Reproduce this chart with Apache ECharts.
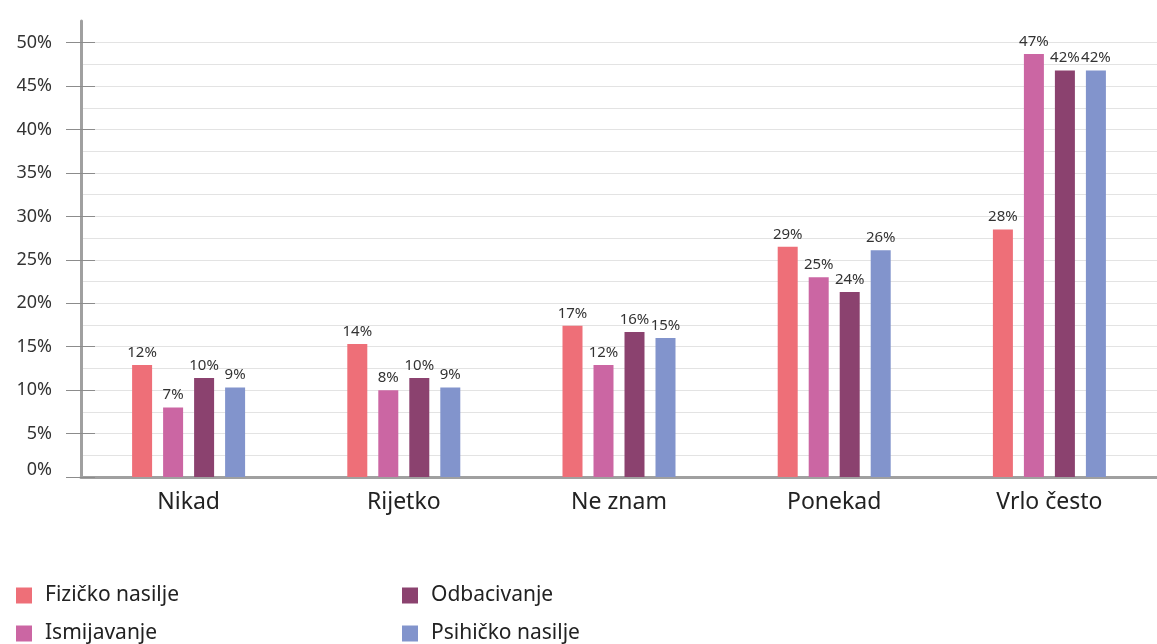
<!DOCTYPE html>
<html>
<head>
<meta charset="utf-8">
<script src="https://cdn.jsdelivr.net/npm/echarts@6/dist/echarts.min.js"></script>
<style>
  html, body { margin: 0; padding: 0; background: #fff; }
  #chart { width: 1157px; height: 644px; }
</style>
</head>
<body>
<div id="chart"></div>
<script>
// kategorije i serije
const categories = ['Nikad', 'Rijetko', 'Ne znam', 'Ponekad', 'Vrlo često']
const seriesNames = ['Fizičko nasilje', 'Ismijavanje', 'Odbacivanje', 'Psihičko nasilje']

// visine stupaca ocitane sa slike (u jedinicama osi)
const fizicko = [12.9, 15.3, 17.4, 26.5, 28.5]
const ismijavanje = [8.0, 10.0, 12.9, 23.0, 48.7]
const odbacivanje = [11.4, 11.4, 16.7, 21.3, 46.8]
const psihicko = [10.3, 10.3, 16.0, 26.1, 46.8]

// natpisi iznad stupaca
const fizickoLabels = [12, 14, 17, 29, 28]
const ismijavanjeLabels = [7, 8, 12, 25, 47]
const odbacivanjeLabels = [10, 10, 16, 24, 42]
const psihickoLabels = [9, 9, 15, 26, 42]

// oznake y osi
const yTicks = [0, 5, 10, 15, 20, 25, 30, 35, 40, 45, 50]
const yMax = 52.5

const colors = ['#ee6f78', '#cb66a3', '#8b426f', '#8294cc']
const FONT = '"Noto Sans", "Open Sans", sans-serif'

function barSeries (name, data, labels, color) {
  return {
    name: name,
    type: 'bar',
    data: data,
    barWidth: 20,
    barGap: '55%',
    itemStyle: { color: color },
    label: {
      show: true,
      position: 'top',
      distance: 5,
      color: '#333',
      fontFamily: FONT,
      fontSize: 15,
      formatter: (p) => labels[p.dataIndex] + '%'
    }
  }
}

// jedna legenda po stavci: 2 stupca x 2 reda
function legendItem (name, left, top) {
  return {
    data: [name],
    left: left,
    top: top,
    itemWidth: 16,
    itemHeight: 16,
    icon: 'rect',
    textStyle: { color: '#222', fontSize: 21, fontFamily: FONT, padding: [0, 0, 0, 8] }
  }
}

const option = {
  animation: false,
  backgroundColor: '#fff',
  textStyle: { fontFamily: FONT },
  grid: {
    left: 81,
    right: 0,
    top: 21,
    bottom: 167,
    containLabel: false
  },
  legend: [
    legendItem(seriesNames[0], 11, 580),
    legendItem(seriesNames[1], 11, 618),
    legendItem(seriesNames[2], 397, 580),
    legendItem(seriesNames[3], 397, 618)
  ],
  xAxis: {
    type: 'category',
    data: categories,
    axisLine: { show: true, lineStyle: { color: '#a0a0a0', width: 3 } },
    axisTick: { show: false },
    axisLabel: {
      color: '#222',
      fontSize: 23,
      fontFamily: FONT,
      margin: 14,
      interval: 0
    }
  },
  yAxis: [
    {
      type: 'value',
      min: 0,
      max: yMax,
      interval: 5,
      axisLine: { show: true, lineStyle: { color: '#a0a0a0', width: 3 } },
      axisTick: { show: true, length: 15, customValues: yTicks, lineStyle: { color: '#8c8c8c' } },
      minorTick: { show: false, splitNumber: 2 },
      splitLine: { show: true, lineStyle: { color: '#e3e3e3' } },
      minorSplitLine: { show: true, lineStyle: { color: '#e3e3e3' } },
      axisLabel: {
        customValues: yTicks,
        color: '#333',
        fontSize: 18,
        fontFamily: FONT,
        margin: 29,
        formatter: (v) => (v === 0 ? '{z|0%}' : v + '%'),
        rich: { z: { fontSize: 18, color: '#333', fontFamily: FONT, padding: [0, 0, 14, 0] } }
      }
    },
    { // unutarnji dio crtica na osi
      type: 'value',
      position: 'left',
      min: 0,
      max: yMax,
      interval: 5,
      axisLine: { show: false },
      axisTick: { show: true, inside: true, length: 14, customValues: yTicks, lineStyle: { color: '#8c8c8c' } },
      splitLine: { show: false },
      axisLabel: { show: false }
    }
  ],
  series: [
    barSeries(seriesNames[0], fizicko, fizickoLabels, colors[0]),
    barSeries(seriesNames[1], ismijavanje, ismijavanjeLabels, colors[1]),
    barSeries(seriesNames[2], odbacivanje, odbacivanjeLabels, colors[2]),
    barSeries(seriesNames[3], psihicko, psihickoLabels, colors[3])
  ]
}

const myChart = echarts.init(document.getElementById('chart'), null, { renderer: 'canvas' })
myChart.setOption(option)
</script>
</body>
</html>
